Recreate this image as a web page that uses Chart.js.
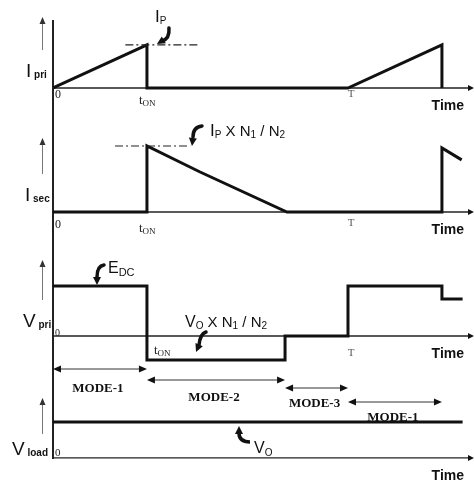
<!DOCTYPE html>
<html>
<head>
<meta charset="utf-8">
<script src="https://cdn.jsdelivr.net/npm/chart.js@4.4.1/dist/chart.umd.min.js"></script>
<style>
  html, body { margin: 0; padding: 0; background: #fff; }
  canvas { display: block; }
</style>
</head>
<body>
<canvas id="wave" width="474" height="483"></canvas>
<script>
// time in units of tON
const tOn = 1.0;
const tPeriod = 3.14;
const timeTickLabels = ['0', 't', 'T'];

// primary current (normalised to Ip)
const iPriT = [0, 1, 1, 3.14, 4.14, 4.14];
const iPriV = [0, 1, 0, 0, 1, 0];

// secondary current (normalised to Ip x N1/N2)
const iSecT = [0, 1, 1, 1.56, 2.49, 4.14, 4.14, 4.35];
const iSecV = [0, 0, 1, 0.61, 0, 0, 0.97, 0.79];

// primary voltage (normalised to EDC)
const vPriT = [0, 1, 1, 2.47, 2.47, 3.14, 3.14, 4.14, 4.14, 4.36];
const vPriV = [1, 1, -0.48, -0.48, 0, 0, 1, 1, 0.74, 0.74];

// load voltage (normalised to Vo)
const vLoadT = [0, 4.36];
const vLoadV = [1, 1];

// dash-dot peak guides
const ipGuideT = [0.77, 1.56];
const isGuideT = [0.66, 1.46];

// operating modes
const modeNames = ['MODE-1', 'MODE-2', 'MODE-3', 'MODE-1'];
const modeStart = [0, 1, 2.47, 3.14];
const modeEnd = [1, 2.47, 3.14, 4.14];

const pts = (ts, vs) => ts.map((t, i) => ({ x: t, y: vs[i] }));
const flat = (ts, v) => ts.map(t => ({ x: t, y: v }));

const SANS = '"Liberation Sans", Arial, sans-serif';
const SERIF = '"Liberation Serif", "Times New Roman", serif';

function head(ctx, x, y, ang, len, w) {
    ctx.save();
    ctx.translate(x, y);
    ctx.rotate(ang);
    ctx.beginPath();
    ctx.moveTo(0, 0);
    ctx.lineTo(-len, -w);
    ctx.lineTo(-len, w);
    ctx.closePath();
    ctx.fill();
    ctx.restore();
}

// parts: [text, font, dy]
function rich(ctx, x, y, parts) {
    let cx = x;
    parts.forEach(p => {
        ctx.font = p[1];
        ctx.fillText(p[0], cx, y + (p[2] || 0));
        cx += ctx.measureText(p[0]).width;
    });
}

function hook(ctx, x0, y0, cx, cy, x1, y1, tipX, tipY) {
    ctx.save();
    ctx.lineWidth = 3.5;
    ctx.lineCap = 'round';
    ctx.beginPath();
    ctx.moveTo(x0, y0);
    ctx.quadraticCurveTo(cx, cy, x1, y1);
    ctx.stroke();
    head(ctx, tipX, tipY, Math.atan2(tipY - y1, tipX - x1), 8, 4);
    ctx.restore();
}

const sketch = {
    id: 'sketch',
    beforeDatasetsDraw(chart) {
        const { ctx, scales } = chart;
        const x = scales.x;
        const left = x.getPixelForValue(0);
        const right = x.getPixelForValue(x.max);
        ctx.save();
        ctx.strokeStyle = '#222';
        ctx.fillStyle = '#111';
        // shared vertical axis
        ctx.lineWidth = 2;
        ctx.beginPath();
        ctx.moveTo(left, chart.chartArea.top);
        ctx.lineTo(left, chart.chartArea.bottom);
        ctx.stroke();
        // zero lines with arrowheads
        ctx.lineWidth = 1.3;
        ['yIpri', 'yIsec', 'yVpri', 'yLoad'].forEach(id => {
            const y0 = scales[id].getPixelForValue(0);
            ctx.beginPath();
            ctx.moveTo(left, y0);
            ctx.lineTo(right, y0);
            ctx.stroke();
            head(ctx, right + 2, y0, 0, 6, 3);
        });
        ctx.restore();
    },
    afterDatasetsDraw(chart) {
        const { ctx, scales } = chart;
        const x = scales.x;
        const left = x.getPixelForValue(0);
        const xOn = x.getPixelForValue(tOn);
        const xT = x.getPixelForValue(tPeriod);
        ctx.save();
        ctx.textBaseline = 'alphabetic';

        const panels = [
            { id: 'yIpri', main: 'I', sub: 'pri', lx: 26, ly: -11, arrow: [-71, -38], zero: 10, zeroSize: 12, tOnDy: 16, tDy: 9 },
            { id: 'yIsec', main: 'I', sub: 'sec', lx: 25, ly: -11, arrow: [-74, -38], zero: 16, zeroSize: 12, tOnDy: 20, tDy: 14 },
            { id: 'yVpri', main: 'V', sub: 'pri', lx: 23, ly: -9, arrow: [-76, -36], zero: 0, zeroSize: 10, tOnDy: 18, tDy: 20 },
            { id: 'yLoad', main: 'V', sub: 'load', lx: 12, ly: -3, arrow: [-60, -24], zero: -2, zeroSize: 11, tOnDy: null, tDy: null }
        ];
        panels.forEach((p, k) => {
            const y0 = scales[p.id].getPixelForValue(0);
            // axis name
            ctx.fillStyle = '#111';
            ctx.textAlign = 'left';
            rich(ctx, p.lx, y0 + p.ly, [[p.main, '19px ' + SANS, 0], [' ' + p.sub, 'bold 10px ' + SANS, 1]]);
            // small up arrow
            ctx.strokeStyle = '#777';
            ctx.fillStyle = '#333';
            ctx.lineWidth = 1;
            ctx.beginPath();
            ctx.moveTo(42.5, y0 + p.arrow[1]);
            ctx.lineTo(42.5, y0 + p.arrow[0] + 4);
            ctx.stroke();
            head(ctx, 42.5, y0 + p.arrow[0], -Math.PI / 2, 7, 3);
            // tick texts
            ctx.fillStyle = '#222';
            ctx.font = p.zeroSize + 'px ' + SERIF;
            ctx.fillText(timeTickLabels[0], left + 2, y0 + p.zero);
            if (p.tOnDy !== null) {
                const ox = k === 2 ? xOn + 7 : xOn - 8;
                rich(ctx, ox, y0 + p.tOnDy, [[timeTickLabels[1], '13px ' + SERIF, 0], ['ON', '9px ' + SERIF, 2]]);
                ctx.fillStyle = '#555';
                ctx.font = '11px ' + SERIF;
                ctx.textAlign = 'center';
                ctx.fillText(timeTickLabels[2], xT + 3, y0 + p.tDy);
            }
            // time label
            ctx.fillStyle = '#111';
            ctx.textAlign = 'right';
            ctx.font = 'bold 14px ' + SANS;
            ctx.fillText('Time', 464, y0 + 22);
        });

        // peak annotations
        ctx.fillStyle = '#111';
        ctx.strokeStyle = '#111';
        ctx.textAlign = 'left';
        const yIp = scales.yIpri.getPixelForValue(1);
        rich(ctx, xOn + 8, yIp - 23, [['I', '17px ' + SANS, 0], ['P', '10px ' + SANS, 2]]);
        hook(ctx, xOn + 22, yIp - 17, xOn + 23, yIp - 6, xOn + 15, yIp - 4, xOn + 10, yIp - 1);

        const yIs = scales.yIsec.getPixelForValue(1);
        rich(ctx, 210, yIs - 10, [['I', '17px ' + SANS, 0], ['P', '10px ' + SANS, 2], [' X N', '15px ' + SANS, 0], ['1', '10px ' + SANS, 2], [' / N', '15px ' + SANS, 0], ['2', '10px ' + SANS, 2]]);
        hook(ctx, 202, yIs - 20, 193, yIs - 19, 193, yIs - 9, 192, yIs);

        const vP = scales.yVpri;
        const yE = vP.getPixelForValue(1);
        rich(ctx, 108, yE - 13, [['E', '16px ' + SANS, 0], ['DC', '11px ' + SANS, 3]]);
        hook(ctx, 104, yE - 21, 97, yE - 20, 97, yE - 9, 97, yE - 1);

        const yN = vP.getPixelForValue(0);
        rich(ctx, 185, yN - 9, [['V', '16px ' + SANS, 0], ['O', '10px ' + SANS, 2], [' X N', '15px ' + SANS, 0], ['1', '10px ' + SANS, 2], [' / N', '15px ' + SANS, 0], ['2', '10px ' + SANS, 2]]);
        hook(ctx, 206, yN - 4, 200, yN - 2, 199, yN + 9, 196, yN + 16);

        const yL = scales.yLoad.getPixelForValue(1);
        ctx.lineWidth = 3.5;
        ctx.beginPath();
        ctx.moveTo(239, yL + 11);
        ctx.quadraticCurveTo(239, yL + 20, 250, yL + 20);
        ctx.stroke();
        head(ctx, 239, yL + 4, -Math.PI / 2, 8, 4);
        rich(ctx, 254, yL + 31, [['V', '16px ' + SANS, 0], ['O', '10px ' + SANS, 3]]);

        // mode spans
        const yNeg = vP.getPixelForValue(-0.48);
        const rows = [9, 20, 28, 42];
        const textDy = [23, 21, 19, 19];
        modeNames.forEach((name, i) => {
            const a = x.getPixelForValue(modeStart[i]);
            const b = x.getPixelForValue(modeEnd[i]);
            const y = yNeg + rows[i];
            ctx.strokeStyle = '#333';
            ctx.fillStyle = '#111';
            ctx.lineWidth = 1;
            ctx.beginPath();
            ctx.moveTo(a + 4, y);
            ctx.lineTo(b - 4, y);
            ctx.stroke();
            head(ctx, a, y, Math.PI, 8, 3.5);
            head(ctx, b, y, 0, 8, 3.5);
            ctx.font = 'bold 13px ' + SERIF;
            ctx.textAlign = 'center';
            ctx.fillText(name, (a + b) / 2 - 2, y + textDy[i]);
        });
        ctx.restore();
    }
};

const wave = { borderColor: '#111', borderWidth: 3, pointRadius: 0, tension: 0, fill: false, borderJoinStyle: 'miter' };
const guide = { borderColor: '#222', borderWidth: 1.2, borderDash: [8, 3, 2, 3], pointRadius: 0, fill: false };

new Chart(document.getElementById('wave'), {
    type: 'line',
    data: {
        datasets: [
            Object.assign({ data: flat(ipGuideT, 1), yAxisID: 'yIpri' }, guide),
            Object.assign({ data: flat(isGuideT, 1), yAxisID: 'yIsec' }, guide),
            Object.assign({ data: pts(iPriT, iPriV), yAxisID: 'yIpri' }, wave),
            Object.assign({ data: pts(iSecT, iSecV), yAxisID: 'yIsec' }, wave),
            Object.assign({ data: pts(vPriT, vPriV), yAxisID: 'yVpri' }, wave),
            Object.assign({ data: pts(vLoadT, vLoadV), yAxisID: 'yLoad' }, wave)
        ]
    },
    options: {
        responsive: false,
        animation: false,
        layout: { padding: { left: 53, right: 2, top: 20, bottom: 24 } },
        plugins: { legend: { display: false }, tooltip: { enabled: false } },
        scales: {
            x: { type: 'linear', display: false, min: 0, max: 4.46 },
            // stacked panels: last one defined sits on top
            yLoad: { type: 'linear', display: false, position: 'left', stack: 'panels', stackWeight: 49, min: -0.03, max: 1.33 },
            yVpri: { type: 'linear', display: false, position: 'left', stack: 'panels', stackWeight: 170, min: -1.48, max: 1.92 },
            yIsec: { type: 'linear', display: false, position: 'left', stack: 'panels', stackWeight: 128, min: -0.424, max: 1.515 },
            yIpri: { type: 'linear', display: false, position: 'left', stack: 'panels', stackWeight: 92, min: -0.558, max: 1.58 }
        }
    },
    plugins: [sketch]
});
</script>
</body>
</html>
